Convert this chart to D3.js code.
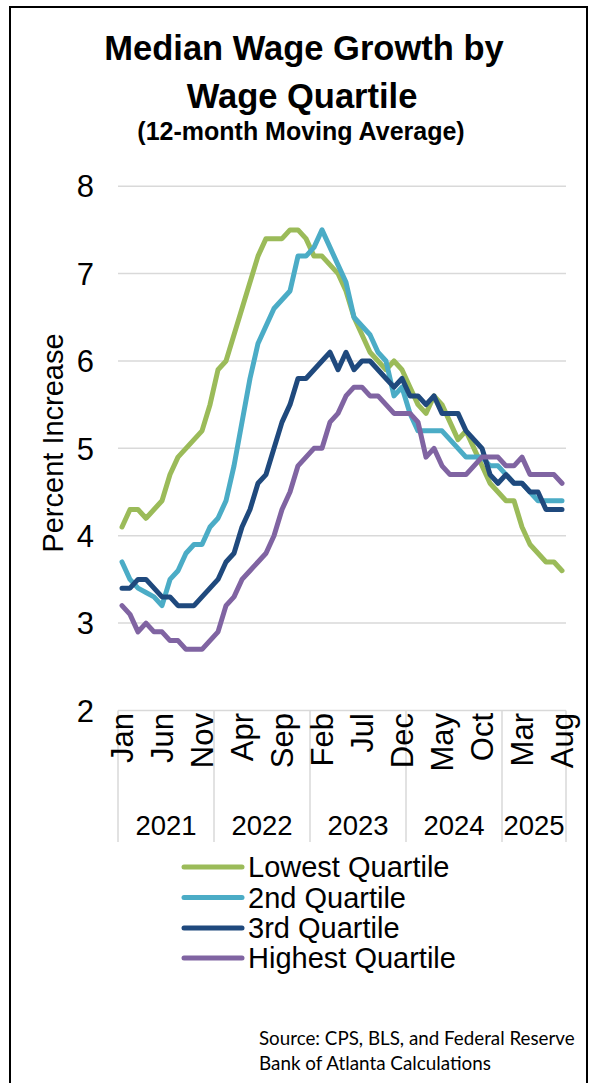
<!DOCTYPE html>
<html><head><meta charset="utf-8">
<script src="https://cdn.jsdelivr.net/npm/d3@7"></script>
<style>body{margin:0;background:#fff}svg{display:block}</style>
</head><body>
<svg id="c" width="590" height="1083"></svg>
<script>
// ---------- data ----------
const months = [
  "Jan","Feb","Mar","Apr","May","Jun","Jul","Aug","Sep","Oct","Nov","Dec",
  "Jan","Feb","Mar","Apr","May","Jun","Jul","Aug","Sep","Oct","Nov","Dec",
  "Jan","Feb","Mar","Apr","May","Jun","Jul","Aug","Sep","Oct","Nov","Dec",
  "Jan","Feb","Mar","Apr","May","Jun","Jul","Aug","Sep","Oct","Nov","Dec",
  "Jan","Feb","Mar","Apr","May","Jun","Jul","Aug"
];
const years = ["2021","2022","2023","2024","2025"];
const yearMonthCounts = [12,12,12,12,8];
const yTicks = [2,3,4,5,6,7,8];
const seriesNames = ["Lowest Quartile","2nd Quartile","3rd Quartile","Highest Quartile"];

const lowest = [
  4.1,4.3,4.3,4.2,4.3,4.4,4.7,4.9,5.0,5.1,5.2,5.5,
  5.9,6.0,6.3,6.6,6.9,7.2,7.4,7.4,7.4,7.5,7.5,7.4,
  7.2,7.2,7.1,7.0,6.8,6.5,6.3,6.1,6.0,5.9,6.0,5.9,
  5.7,5.5,5.4,5.6,5.5,5.3,5.1,5.2,5.0,4.8,4.6,4.5,
  4.4,4.4,4.1,3.9,3.8,3.7,3.7,3.6
];
const second = [
  3.7,3.5,3.4,3.35,3.3,3.2,3.5,3.6,3.8,3.9,3.9,4.1,
  4.2,4.4,4.8,5.3,5.8,6.2,6.4,6.6,6.7,6.8,7.2,7.2,
  7.3,7.5,7.3,7.1,6.9,6.5,6.4,6.3,6.1,6.0,5.6,5.7,
  5.4,5.2,5.2,5.2,5.2,5.1,5.0,4.9,4.9,4.9,4.8,4.8,
  4.7,4.6,4.6,4.5,4.4,4.4,4.4,4.4
];
const third = [
  3.4,3.4,3.5,3.5,3.4,3.3,3.3,3.2,3.2,3.2,3.3,3.4,
  3.5,3.7,3.8,4.1,4.3,4.6,4.7,5.0,5.3,5.5,5.8,5.8,
  5.9,6.0,6.1,5.9,6.1,5.9,6.0,6.0,5.9,5.8,5.7,5.8,
  5.6,5.6,5.5,5.6,5.4,5.4,5.4,5.2,5.1,5.0,4.7,4.6,
  4.7,4.6,4.6,4.5,4.5,4.3,4.3,4.3
];
const highest = [
  3.2,3.1,2.9,3.0,2.9,2.9,2.8,2.8,2.7,2.7,2.7,2.8,
  2.9,3.2,3.3,3.5,3.6,3.7,3.8,4.0,4.3,4.5,4.8,4.9,
  5.0,5.0,5.3,5.4,5.6,5.7,5.7,5.6,5.6,5.5,5.4,5.4,
  5.4,5.3,4.9,5.0,4.8,4.7,4.7,4.7,4.8,4.9,4.9,4.9,
  4.8,4.8,4.9,4.7,4.7,4.7,4.7,4.6
];
const colors = ["#9BBB59","#4BACC6","#1F497D","#8064A2"];
const tickEvery = 5;

// ---------- layout ----------
const svg = d3.select("#c");
svg.append("rect").attr("width",590).attr("height",1083).attr("fill","#fff");
svg.append("path").attr("d","M10,1083V7H587V1083").attr("fill","none")
  .attr("stroke","#000").attr("stroke-width",2);

const FONT = "'Liberation Sans', Arial, sans-serif";
const plotL = 118, plotR = 566;
const x = d3.scaleBand().domain(d3.range(months.length)).range([plotL, plotR]).padding(0);
const y = d3.scaleLinear().domain([2,8]).range([710.5,186.2]);
const cx = i => x(i) + x.bandwidth()/2;

function fit(sel, w){
  const cur = sel.node().getComputedTextLength();
  const fs = parseFloat(sel.attr("font-size"));
  sel.attr("font-size", fs*w/cur);
  return sel;
}

// title
svg.append("text").attr("x",304).attr("y",60).attr("text-anchor","middle")
  .attr("font-family",FONT).attr("font-weight","bold").attr("font-size",34.5)
  .text("Median Wage Growth by");
svg.append("text").attr("x",302).attr("y",108).attr("text-anchor","middle")
  .attr("font-family",FONT).attr("font-weight","bold").attr("font-size",34.5)
  .text("Wage Quartile");
svg.append("text").attr("x",301).attr("y",140).attr("text-anchor","middle")
  .attr("font-family",FONT).attr("font-weight","bold").attr("font-size",25)
  .text("(12-month Moving Average)");

// gridlines
svg.append("g").selectAll("line").data(yTicks).join("line")
  .attr("x1",plotL).attr("x2",plotR).attr("y1",d=>y(d)).attr("y2",d=>y(d))
  .attr("stroke","#d9d9d9").attr("stroke-width",1.5);

// y tick labels
svg.append("g").selectAll("text").data(yTicks).join("text")
  .attr("x",94).attr("y",d=>y(d)).attr("dy","0.36em").attr("text-anchor","end")
  .attr("font-family",FONT).attr("font-size",31).attr("fill","#000")
  .text(d=>d);

// y axis title
svg.append("text").attr("transform","translate(63,443) rotate(-90)")
  .attr("text-anchor","middle").attr("font-family",FONT).attr("font-size",29)
  .text("Percent Increase");

// year separators
let bounds = [0];
yearMonthCounts.forEach((c,k)=>bounds.push(bounds[k]+c));
svg.append("g").selectAll("line").data(bounds).join("line")
  .attr("x1",d=> d===months.length ? plotR : x(d)).attr("x2",d=> d===months.length ? plotR : x(d))
  .attr("y1",710.5).attr("y2",842).attr("stroke","#d9d9d9").attr("stroke-width",1.5);

// month labels
const tickIdx = d3.range(0, months.length, tickEvery);
svg.append("g").selectAll("text").data(tickIdx).join("text")
  .attr("transform",i=>`translate(${cx(i)},713) rotate(-90)`)
  .attr("dy","0.36em").attr("text-anchor","end")
  .attr("font-family",FONT).attr("font-size",31)
  .text(i=>months[i]);

// year labels
svg.append("g").selectAll("text").data(years).join("text")
  .attr("x",(d,k)=> (x(bounds[k]) + (bounds[k+1]===months.length ? plotR : x(bounds[k+1])))/2)
  .attr("y",835).attr("text-anchor","middle")
  .attr("font-family",FONT).attr("font-size",27.5)
  .text(d=>d);

// lines
const allSeries = [lowest, second, third, highest];
const line = d3.line().x((d,i)=>cx(i)).y(d=>y(d));
svg.append("g").selectAll("path").data(allSeries).join("path")
  .attr("d",line).attr("fill","none")
  .attr("stroke",(d,k)=>colors[k]).attr("stroke-width",5)
  .attr("stroke-linejoin","round").attr("stroke-linecap","round");

// legend
const legY = [867, 897.5, 928, 958];
const lg = svg.append("g");
seriesNames.forEach((n,k)=>{
  lg.append("line").attr("x1",184).attr("x2",242).attr("y1",legY[k]).attr("y2",legY[k])
    .attr("stroke",colors[k]).attr("stroke-width",5).attr("stroke-linecap","round");
  lg.append("text").attr("x",248).attr("y",legY[k]).attr("dy","0.36em")
    .attr("font-family",FONT).attr("font-size",29).text(n);
});

// source
const SFONT = "Lato, 'Open Sans', sans-serif";
fit(svg.append("text").attr("x",259).attr("y",1045).attr("font-family",SFONT)
  .attr("font-size",17).text("Source: CPS, BLS, and Federal Reserve"), 316);
fit(svg.append("text").attr("x",259).attr("y",1070).attr("font-family",SFONT)
  .attr("font-size",17).text("Bank of Atlanta Calculations"), 232);
</script>
</body></html>
